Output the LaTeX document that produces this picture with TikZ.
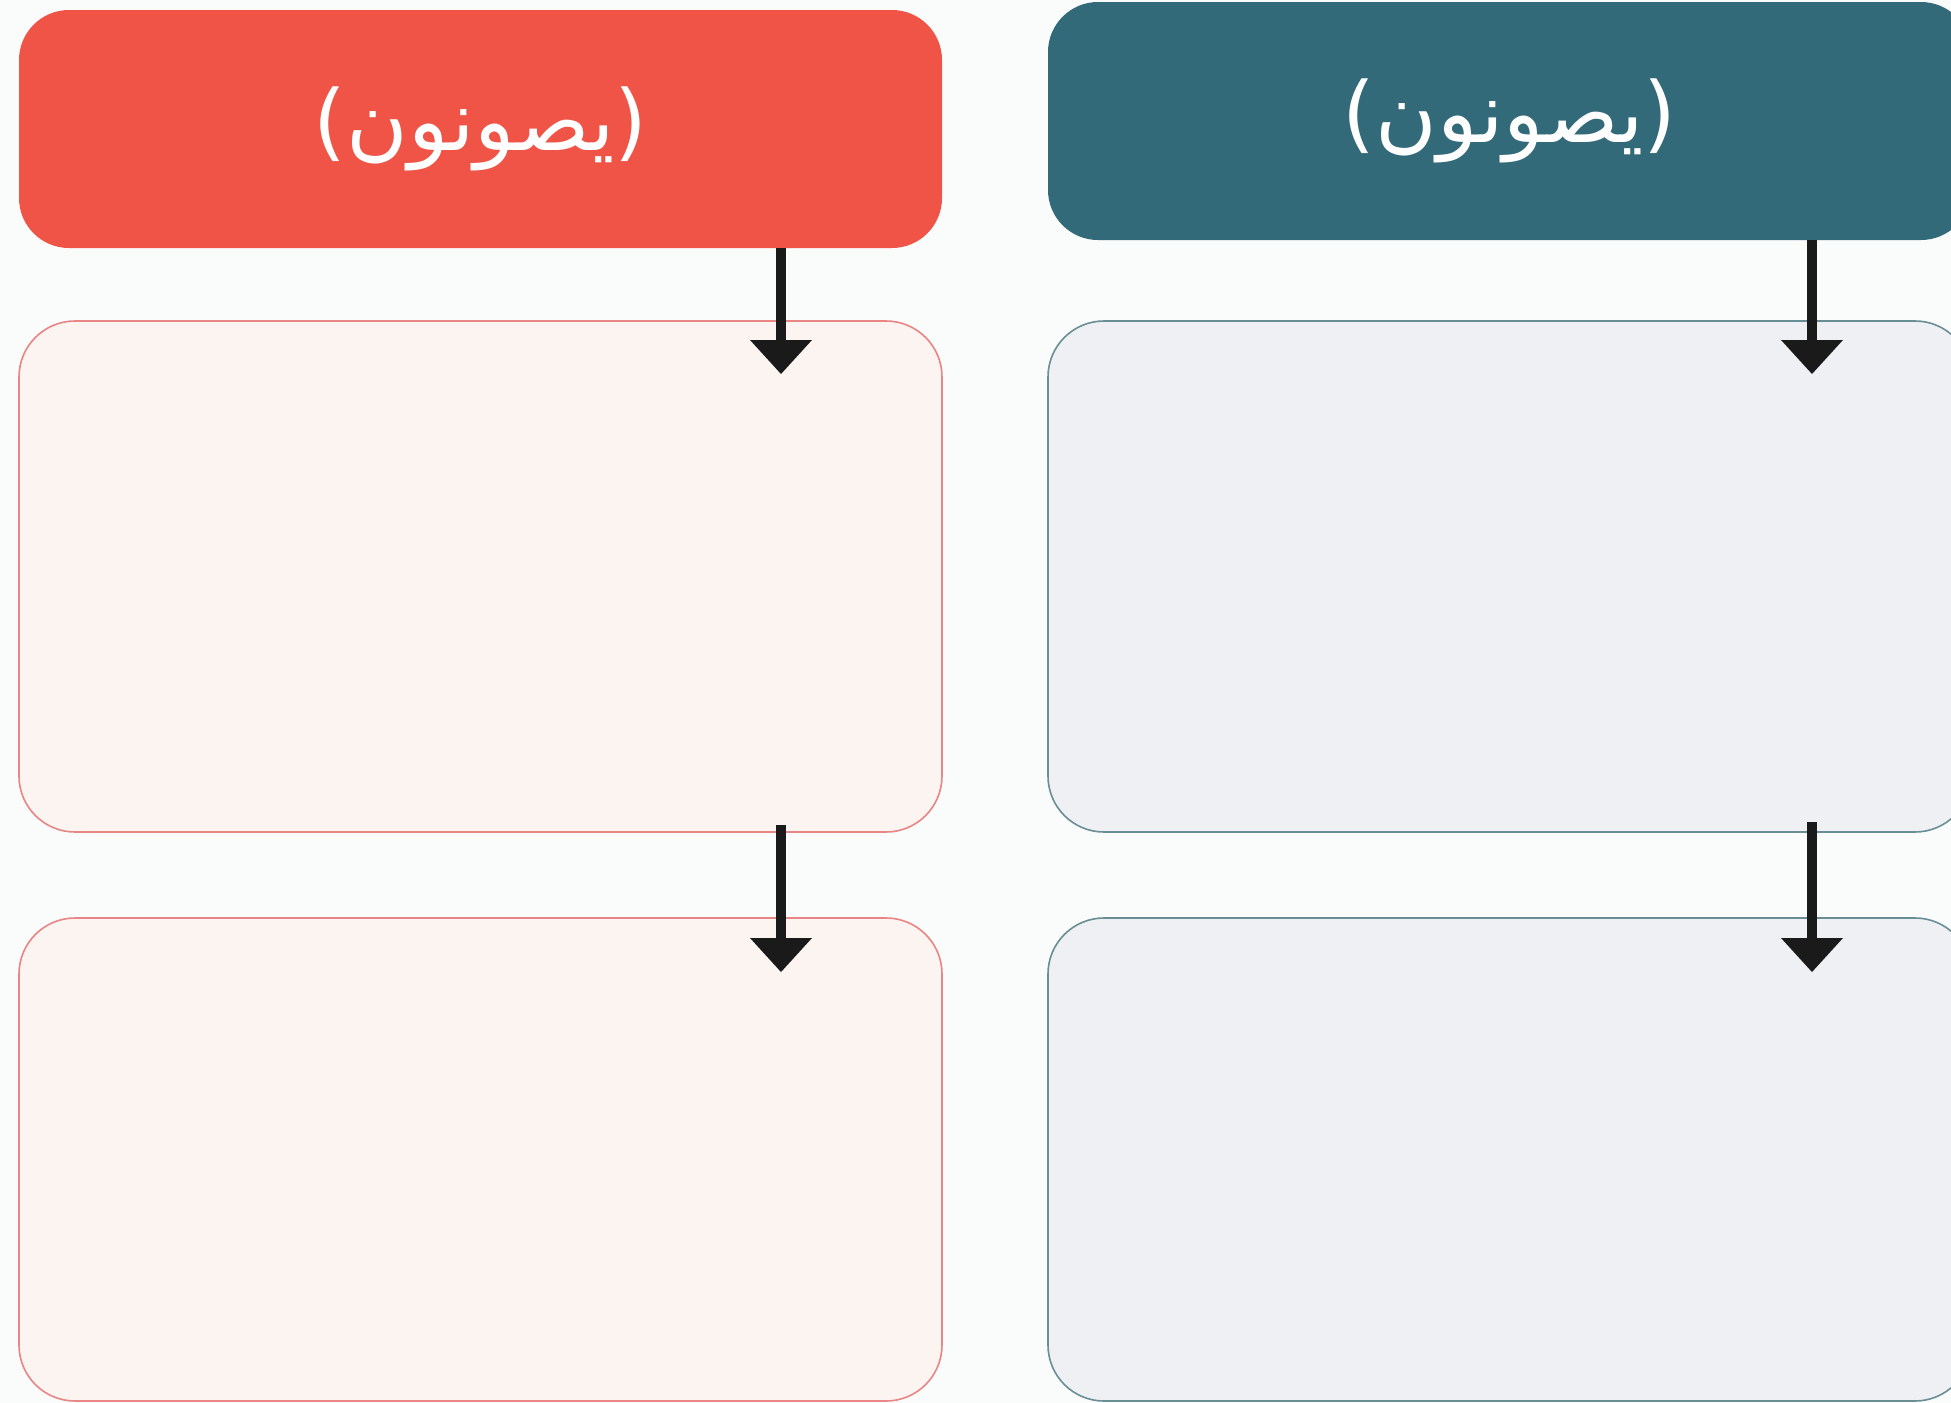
\documentclass[tikz,border=0pt]{standalone}
\usepackage{fontspec}
\newfontfamily\arabicfont[Script=Arabic]{DejaVu Sans}
\TeXXeTstate=1
\usetikzlibrary{arrows.meta}
\definecolor{redhead}{HTML}{EF5446}
\definecolor{tealhead}{HTML}{336A79}
\definecolor{redfill}{HTML}{FBF4F1}
\definecolor{redline}{HTML}{E98585}
\definecolor{tealfill}{HTML}{EFF0F3}
\definecolor{tealline}{HTML}{6A8E96}
\definecolor{bgcol}{HTML}{FAFBFB}
\definecolor{arrcol}{HTML}{1A1A1A}
\tikzset{
  header/.style={rectangle, rounded corners=25pt, minimum width=461.5pt, minimum height=119pt, inner sep=0pt, text=white, font=\arabicfont\fontsize{42}{50}\selectfont},
  redhdr/.style={header, fill=redhead},
  tealhdr/.style={header, fill=tealhead},
  panel/.style={rectangle, rounded corners=28pt, minimum width=461.5pt, inner sep=0pt, line width=0.8pt},
  redpanel/.style={panel, fill=redfill, draw=redline},
  tealpanel/.style={panel, fill=tealfill, draw=tealline},
  arr/.style={draw=arrcol, line width=5pt, -{Triangle[width=31pt,length=17pt,line width=0pt]}, arrcol}
}
\begin{document}
\begin{tikzpicture}[x=0.5pt,y=-0.5pt]
\useasboundingbox (0,0) rectangle (1951,1403);
\fill[bgcol] (0,0) rectangle (1951,1403);
\clip (0,0) rectangle (1951,1403);
% left column
\node[redhdr] (rh) at (480.5,129) {\beginR(يصونون)\endR};
\node[redpanel, minimum height=255.5pt] (rb1) at (480.5,576.5) {};
\node[redpanel, minimum height=241.5pt] (rb2) at (480.5,1159.5) {};
% right column
\node[tealhdr] (th) at (1509.5,121) {\beginR(يصونون)\endR};
\node[tealpanel, minimum height=255.5pt] (tb1) at (1509.5,576.5) {};
\node[tealpanel, minimum height=241.5pt] (tb2) at (1509.5,1159.5) {};
% arrow coordinates
\coordinate (ra1) at (781,374);
\coordinate (ra2s) at (781,825);
\coordinate (ra2) at (781,972);
\coordinate (ta1) at (1812,374);
\coordinate (ta2s) at (1812,822);
\coordinate (ta2) at (1812,972);
\draw[arr] (rh.south -| ra1) -- (ra1);
\draw[arr] (ra2s) -- (ra2);
\draw[arr] (th.south -| ta1) -- (ta1);
\draw[arr] (ta2s) -- (ta2);
\end{tikzpicture}
\end{document}
